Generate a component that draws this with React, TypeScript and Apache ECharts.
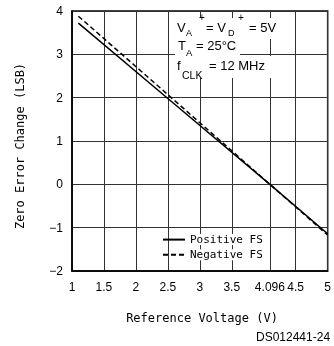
import React, { useEffect, useRef } from 'react';
import * as echarts from 'echarts';

const xTickValues = [1, 1.5, 2, 2.5, 3, 3.5, 4.096, 4.5, 5];
const refVoltage = [1.1, 2.5, 4.096, 5];
const positiveFS = [3.72, 1.98, 0, -1.14];
const negativeFS = [3.88, 2.07, 0, -1.17];
const seriesNames = ['Positive FS', 'Negative FS'];
const xAxisTitle = 'Reference Voltage (V)';
const yAxisTitle = 'Zero Error Change (LSB)';
const figureId = 'DS012441-24';

const SANS = '"Liberation Sans", Arial, sans-serif';
const MONO = '"DejaVu Sans Mono", monospace';

function txt(text: string, x: number, y: number, fontSize: number, extra: any = {}) {
  return {
    type: 'text',
    x,
    y,
    z: 20,
    style: {
      text,
      fontSize,
      fontFamily: SANS,
      fill: '#000',
      align: 'left',
      verticalAlign: 'middle',
      ...extra,
    },
  };
}

function bg(x: number, y: number, width: number, height: number) {
  return { type: 'rect', z: 15, shape: { x, y, width, height }, style: { fill: '#fff' } };
}

export default function App() {
  const ref = useRef<HTMLDivElement>(null);
  useEffect(() => {
    const chart = echarts.init(ref.current!, null, { renderer: 'svg' });
    chart.setOption({
      animation: false,
      grid: {
        show: true,
        left: 72,
        top: 11,
        right: 2,
        bottom: 75,
        borderColor: '#000',
        borderWidth: 1.5,
      },
      xAxis: {
        type: 'value',
        min: 1,
        max: 5,
        interval: 0.5,
        axisLine: { show: true, onZero: false, lineStyle: { color: '#000', width: 1.5 } },
        axisTick: { show: false, customValues: xTickValues },
        axisLabel: {
          customValues: xTickValues,
          margin: 10,
          fontSize: 12,
          fontFamily: SANS,
          color: '#000',
          formatter: (v: number) => String(v),
        },
        splitLine: { show: true, lineStyle: { color: '#333', width: 1 } },
      },
      yAxis: {
        type: 'value',
        min: -2,
        max: 4,
        interval: 1,
        axisLine: { show: true, onZero: false, lineStyle: { color: '#000', width: 1.5 } },
        axisTick: { show: false },
        axisLabel: {
          margin: 9,
          fontSize: 12,
          fontFamily: SANS,
          color: '#000',
          formatter: (v: number) => (v < 0 ? '\u2212' + Math.abs(v) : String(v)),
        },
        splitLine: { show: true, lineStyle: { color: '#333', width: 1 } },
      },
      legend: {
        orient: 'vertical',
        left: 162,
        top: 234,
        itemWidth: 22,
        itemHeight: 14,
        itemGap: 4,
        padding: 0,
        data: seriesNames,
        itemStyle: { opacity: 0 },
        textStyle: {
          fontFamily: MONO,
          fontSize: 11,
          color: '#000',
          backgroundColor: '#fff',
        },
      },
      series: [
        {
          name: seriesNames[0],
          type: 'line',
          symbol: 'none',
          z: 3,
          data: refVoltage.map((x, i) => [x, positiveFS[i]]),
          lineStyle: { color: '#000', width: 1.5, type: 'solid' },
          itemStyle: { color: '#000' },
        },
        {
          name: seriesNames[1],
          type: 'line',
          symbol: 'none',
          z: 3,
          data: refVoltage.map((x, i) => [x, negativeFS[i]]),
          lineStyle: { color: '#000', width: 1.5, type: [5, 3] },
          itemStyle: { color: '#000' },
        },
      ],
      graphic: [
        bg(175, 18, 104, 21),
        bg(175, 39, 65, 17),
        bg(175, 56, 104, 22),
        txt('V', 177, 27, 13),
        txt('A', 186, 33, 9),
        txt('+', 199, 17.5, 10),
        txt('= V', 206, 27, 13),
        txt('D', 228, 32.5, 9),
        txt('+', 238, 17.5, 10),
        txt('= 5V', 249, 27, 13),
        txt('T', 178, 45, 13),
        txt('A', 186, 52, 9.5),
        txt('= 25\u00B0C', 196, 45.5, 13),
        txt('f', 177, 65.5, 13),
        txt('CLK', 182, 74.5, 10.5),
        txt('= 12 MHz', 209, 65.5, 13),
        txt(xAxisTitle, 202, 318, 12, { fontFamily: MONO, align: 'center' }),
        {
          type: 'text',
          x: 20,
          y: 146,
          rotation: Math.PI / 2,
          z: 20,
          style: {
            text: yAxisTitle,
            fontSize: 12,
            fontFamily: MONO,
            fill: '#000',
            align: 'center',
            verticalAlign: 'middle',
          },
        },
        txt(figureId, 256, 337, 12),
      ],
    });
    return () => chart.dispose();
  }, []);
  return <div ref={ref} style={{ position: 'fixed', left: 0, top: 0, width: 334, height: 346 }} />;
}
